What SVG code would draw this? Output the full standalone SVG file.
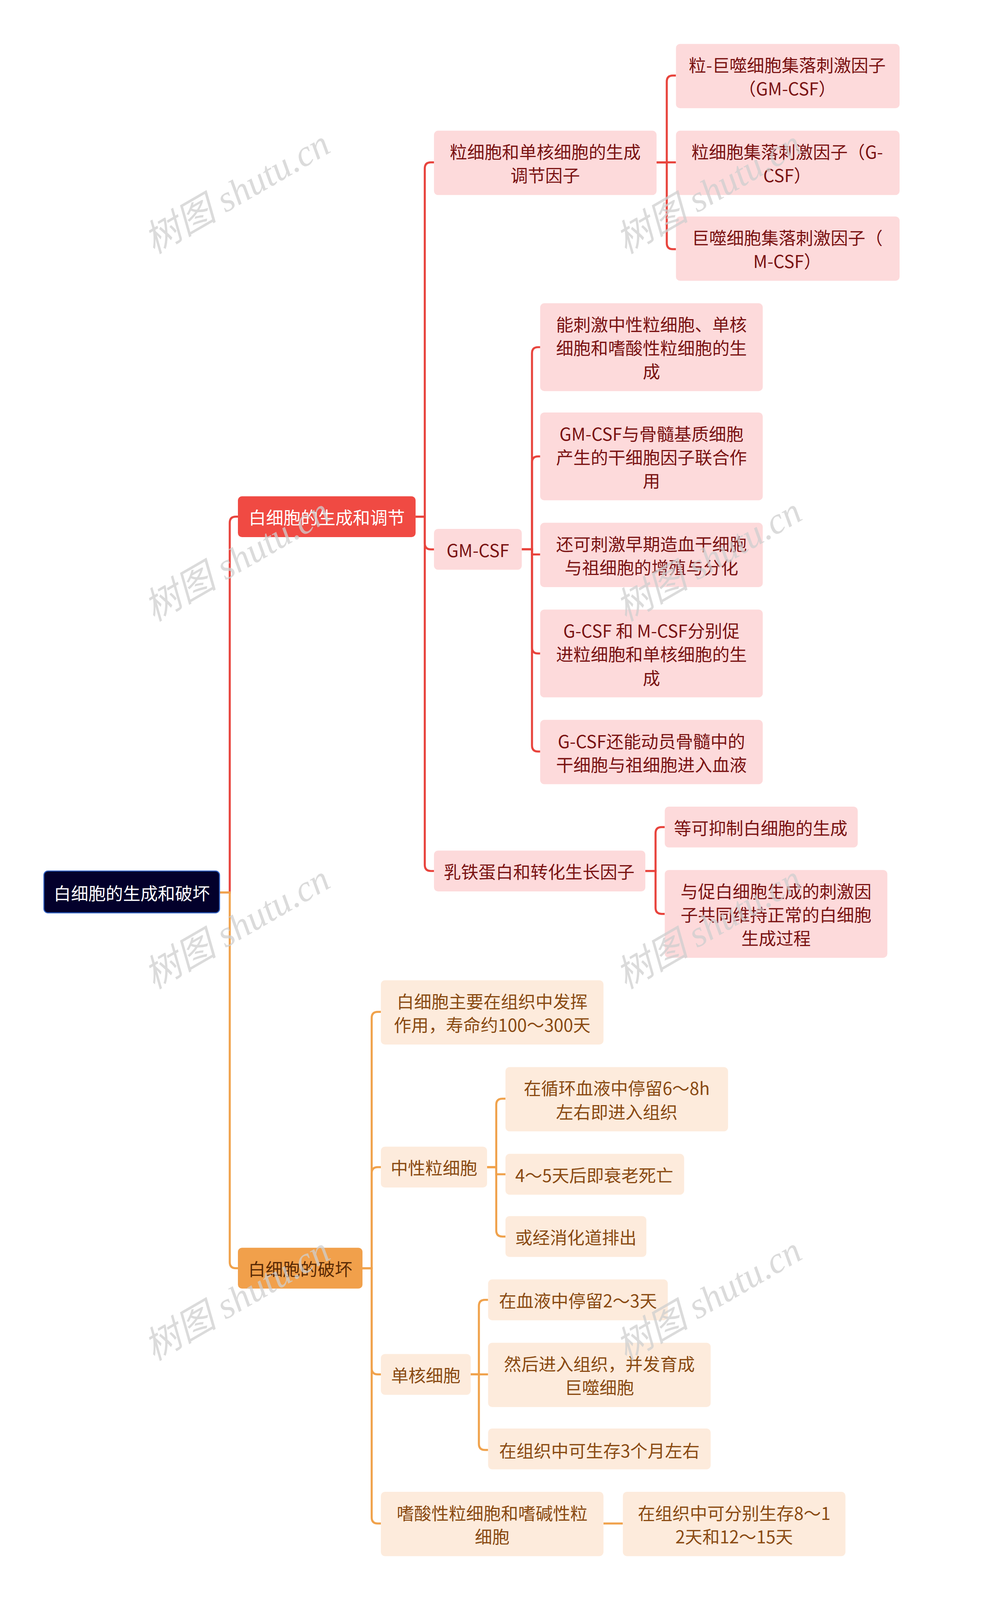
<svg xmlns="http://www.w3.org/2000/svg" width="2560" height="4343" viewBox="0 0 2560 4343">
<style>
text{font-family:"Noto Sans CJK SC","Noto Sans",sans-serif;font-size:17px;text-anchor:middle;dominant-baseline:central}
.r rect{fill:#fddadb}.r text{fill:#7a1212}
.o rect{fill:#fdebdc}.o text{fill:#8a4a12}
.cr{fill:none;stroke:#e8443d;stroke-width:2}
.co{fill:none;stroke:#f0a24c;stroke-width:2}
.wm{font-family:"Liberation Serif","Noto Sans CJK SC",serif;font-style:italic;font-size:36px;fill:#cfcfcf;opacity:.75}
</style>
<rect width="2560" height="4343" fill="#fff"/>
<g transform="scale(2.614)">
<g id="connectors">
<path class="cr" d="M215,874 H225 V512 Q225,506 231,506 H233"/>
<path class="co" d="M215,874 H225 V1236 Q225,1242 231,1242 H233"/>
<path class="cr" d="M407,506 H416 V165 Q416,159 422,159 H425"/>
<path class="cr" d="M407,506 H416 V532 Q416,538 422,538 H425"/>
<path class="cr" d="M407,506 H416 V847 Q416,853 422,853 H425"/>
<path class="cr" d="M643,159 H653 V80 Q653,74 659,74 H662"/>
<path class="cr" d="M643,159 H662"/>
<path class="cr" d="M643,159 H653 V238 Q653,244 659,244 H662"/>
<path class="cr" d="M511,538 H521 V346 Q521,340 527,340 H529"/>
<path class="cr" d="M511,538 H521 V453 Q521,447 527,447 H529"/>
<path class="cr" d="M511,538 H521 V543 H529"/>
<path class="cr" d="M511,538 H521 V634 Q521,640 527,640 H529"/>
<path class="cr" d="M511,538 H521 V730 Q521,736 527,736 H529"/>
<path class="cr" d="M632,853 H642 V816 Q642,810 648,810 H651"/>
<path class="cr" d="M632,853 H642 V889 Q642,895 648,895 H651"/>
<path class="co" d="M355,1242 H364 V997 Q364,991 370,991 H373"/>
<path class="co" d="M355,1242 H364 V1149 Q364,1143 370,1143 H373"/>
<path class="co" d="M355,1242 H364 V1340 Q364,1346 370,1346 H373"/>
<path class="co" d="M355,1242 H364 V1486 Q364,1492 370,1492 H373"/>
<path class="co" d="M477,1143 H486 V1082 Q486,1076 492,1076 H495"/>
<path class="co" d="M477,1143 H486 V1150 H495"/>
<path class="co" d="M477,1143 H486 V1205 Q486,1211 492,1211 H495"/>
<path class="co" d="M461,1346 H469 V1279 Q469,1273 475,1273 H478"/>
<path class="co" d="M461,1346 H478"/>
<path class="co" d="M461,1346 H469 V1414 Q469,1420 475,1420 H478"/>
<path class="co" d="M591,1492 H610"/>
</g>
<g id="root"><rect x="43" y="853" width="172" height="41" rx="4" fill="#03002b" stroke="#2f5fc0" stroke-width="1"/><text x="129" y="874" fill="#fff">白细胞的生成和破坏</text></g>
<g id="n1"><rect x="233" y="486" width="174" height="40" rx="4" fill="#f04a43"/><text x="320" y="506" fill="#fff">白细胞的生成和调节</text></g>
<g id="n2"><rect x="233" y="1222" width="122" height="40" rx="4" fill="#f1a04b"/><text x="294" y="1242" fill="#5a2a05">白细胞的破坏</text></g>
<g class="r">
<g id="A"><rect x="425" y="128" width="218" height="63" rx="4"/><text x="534" y="148">粒细胞和单核细胞的生成</text><text x="534" y="171">调节因子</text></g>
<g id="A1"><rect x="662" y="43" width="219" height="63" rx="4"/><text x="771" y="63">粒-巨噬细胞集落刺激因子</text><text x="771" y="86">（GM-CSF）</text></g>
<g id="A2"><rect x="662" y="128" width="219" height="63" rx="4"/><text x="771" y="148">粒细胞集落刺激因子（G-</text><text x="771" y="171">CSF）</text></g>
<g id="A3"><rect x="662" y="212" width="219" height="63" rx="4"/><text x="771" y="232">巨噬细胞集落刺激因子（</text><text x="771" y="255">M-CSF）</text></g>
<g id="B"><rect x="425" y="518" width="86" height="40" rx="4"/><text x="468" y="538">GM-CSF</text></g>
<g id="B1"><rect x="529" y="297" width="218" height="86" rx="4"/><text x="638" y="317">能刺激中性粒细胞、单核</text><text x="638" y="340">细胞和嗜酸性粒细胞的生</text><text x="638" y="363">成</text></g>
<g id="B2"><rect x="529" y="404" width="218" height="86" rx="4"/><text x="638" y="424">GM-CSF与骨髓基质细胞</text><text x="638" y="447">产生的干细胞因子联合作</text><text x="638" y="470">用</text></g>
<g id="B3"><rect x="529" y="512" width="218" height="63" rx="4"/><text x="638" y="532">还可刺激早期造血干细胞</text><text x="638" y="555">与祖细胞的增殖与分化</text></g>
<g id="B4"><rect x="529" y="597" width="218" height="86" rx="4"/><text x="638" y="617">G-CSF 和 M-CSF分别促</text><text x="638" y="640">进粒细胞和单核细胞的生</text><text x="638" y="663">成</text></g>
<g id="B5"><rect x="529" y="705" width="218" height="63" rx="4"/><text x="638" y="725">G-CSF还能动员骨髓中的</text><text x="638" y="748">干细胞与祖细胞进入血液</text></g>
<g id="C"><rect x="425" y="833" width="207" height="40" rx="4"/><text x="528" y="853">乳铁蛋白和转化生长因子</text></g>
<g id="C1"><rect x="651" y="790" width="189" height="40" rx="4"/><text x="745" y="810">等可抑制白细胞的生成</text></g>
<g id="C2"><rect x="651" y="852" width="218" height="86" rx="4"/><text x="760" y="872">与促白细胞生成的刺激因</text><text x="760" y="895">子共同维持正常的白细胞</text><text x="760" y="918">生成过程</text></g>
</g>
<g class="o">
<g id="D"><rect x="373" y="960" width="218" height="63" rx="4"/><text x="482" y="980">白细胞主要在组织中发挥</text><text x="482" y="1003">作用，寿命约100～300天</text></g>
<g id="E"><rect x="373" y="1123" width="104" height="40" rx="4"/><text x="425" y="1143">中性粒细胞</text></g>
<g id="E1"><rect x="495" y="1045" width="218" height="63" rx="4"/><text x="604" y="1065">在循环血液中停留6～8h</text><text x="604" y="1088">左右即进入组织</text></g>
<g id="E2"><rect x="495" y="1130" width="175" height="40" rx="4"/><text x="582" y="1150">4～5天后即衰老死亡</text></g>
<g id="E3"><rect x="495" y="1191" width="138" height="40" rx="4"/><text x="564" y="1211">或经消化道排出</text></g>
<g id="F"><rect x="373" y="1326" width="88" height="40" rx="4"/><text x="417" y="1346">单核细胞</text></g>
<g id="F1"><rect x="478" y="1253" width="176" height="40" rx="4"/><text x="566" y="1273">在血液中停留2～3天</text></g>
<g id="F2"><rect x="478" y="1315" width="218" height="63" rx="4"/><text x="587" y="1335">然后进入组织，并发育成</text><text x="587" y="1358">巨噬细胞</text></g>
<g id="F3"><rect x="478" y="1399" width="218" height="40" rx="4"/><text x="587" y="1420">在组织中可生存3个月左右</text></g>
<g id="G"><rect x="373" y="1461" width="218" height="63" rx="4"/><text x="482" y="1481">嗜酸性粒细胞和嗜碱性粒</text><text x="482" y="1504">细胞</text></g>
<g id="G1"><rect x="610" y="1461" width="218" height="63" rx="4"/><text x="719" y="1481">在组织中可分别生存8～1</text><text x="719" y="1504">2天和12～15天</text></g>
</g>
<g id="watermarks">
<text class="wm" transform="translate(232,188) rotate(-30)">树图 shutu.cn</text>
<text class="wm" transform="translate(694,188) rotate(-30)">树图 shutu.cn</text>
<text class="wm" transform="translate(232,548) rotate(-30)">树图 shutu.cn</text>
<text class="wm" transform="translate(694,548) rotate(-30)">树图 shutu.cn</text>
<text class="wm" transform="translate(232,908) rotate(-30)">树图 shutu.cn</text>
<text class="wm" transform="translate(694,908) rotate(-30)">树图 shutu.cn</text>
<text class="wm" transform="translate(232,1272) rotate(-30)">树图 shutu.cn</text>
<text class="wm" transform="translate(694,1272) rotate(-30)">树图 shutu.cn</text>
</g>
</g>
</svg>
